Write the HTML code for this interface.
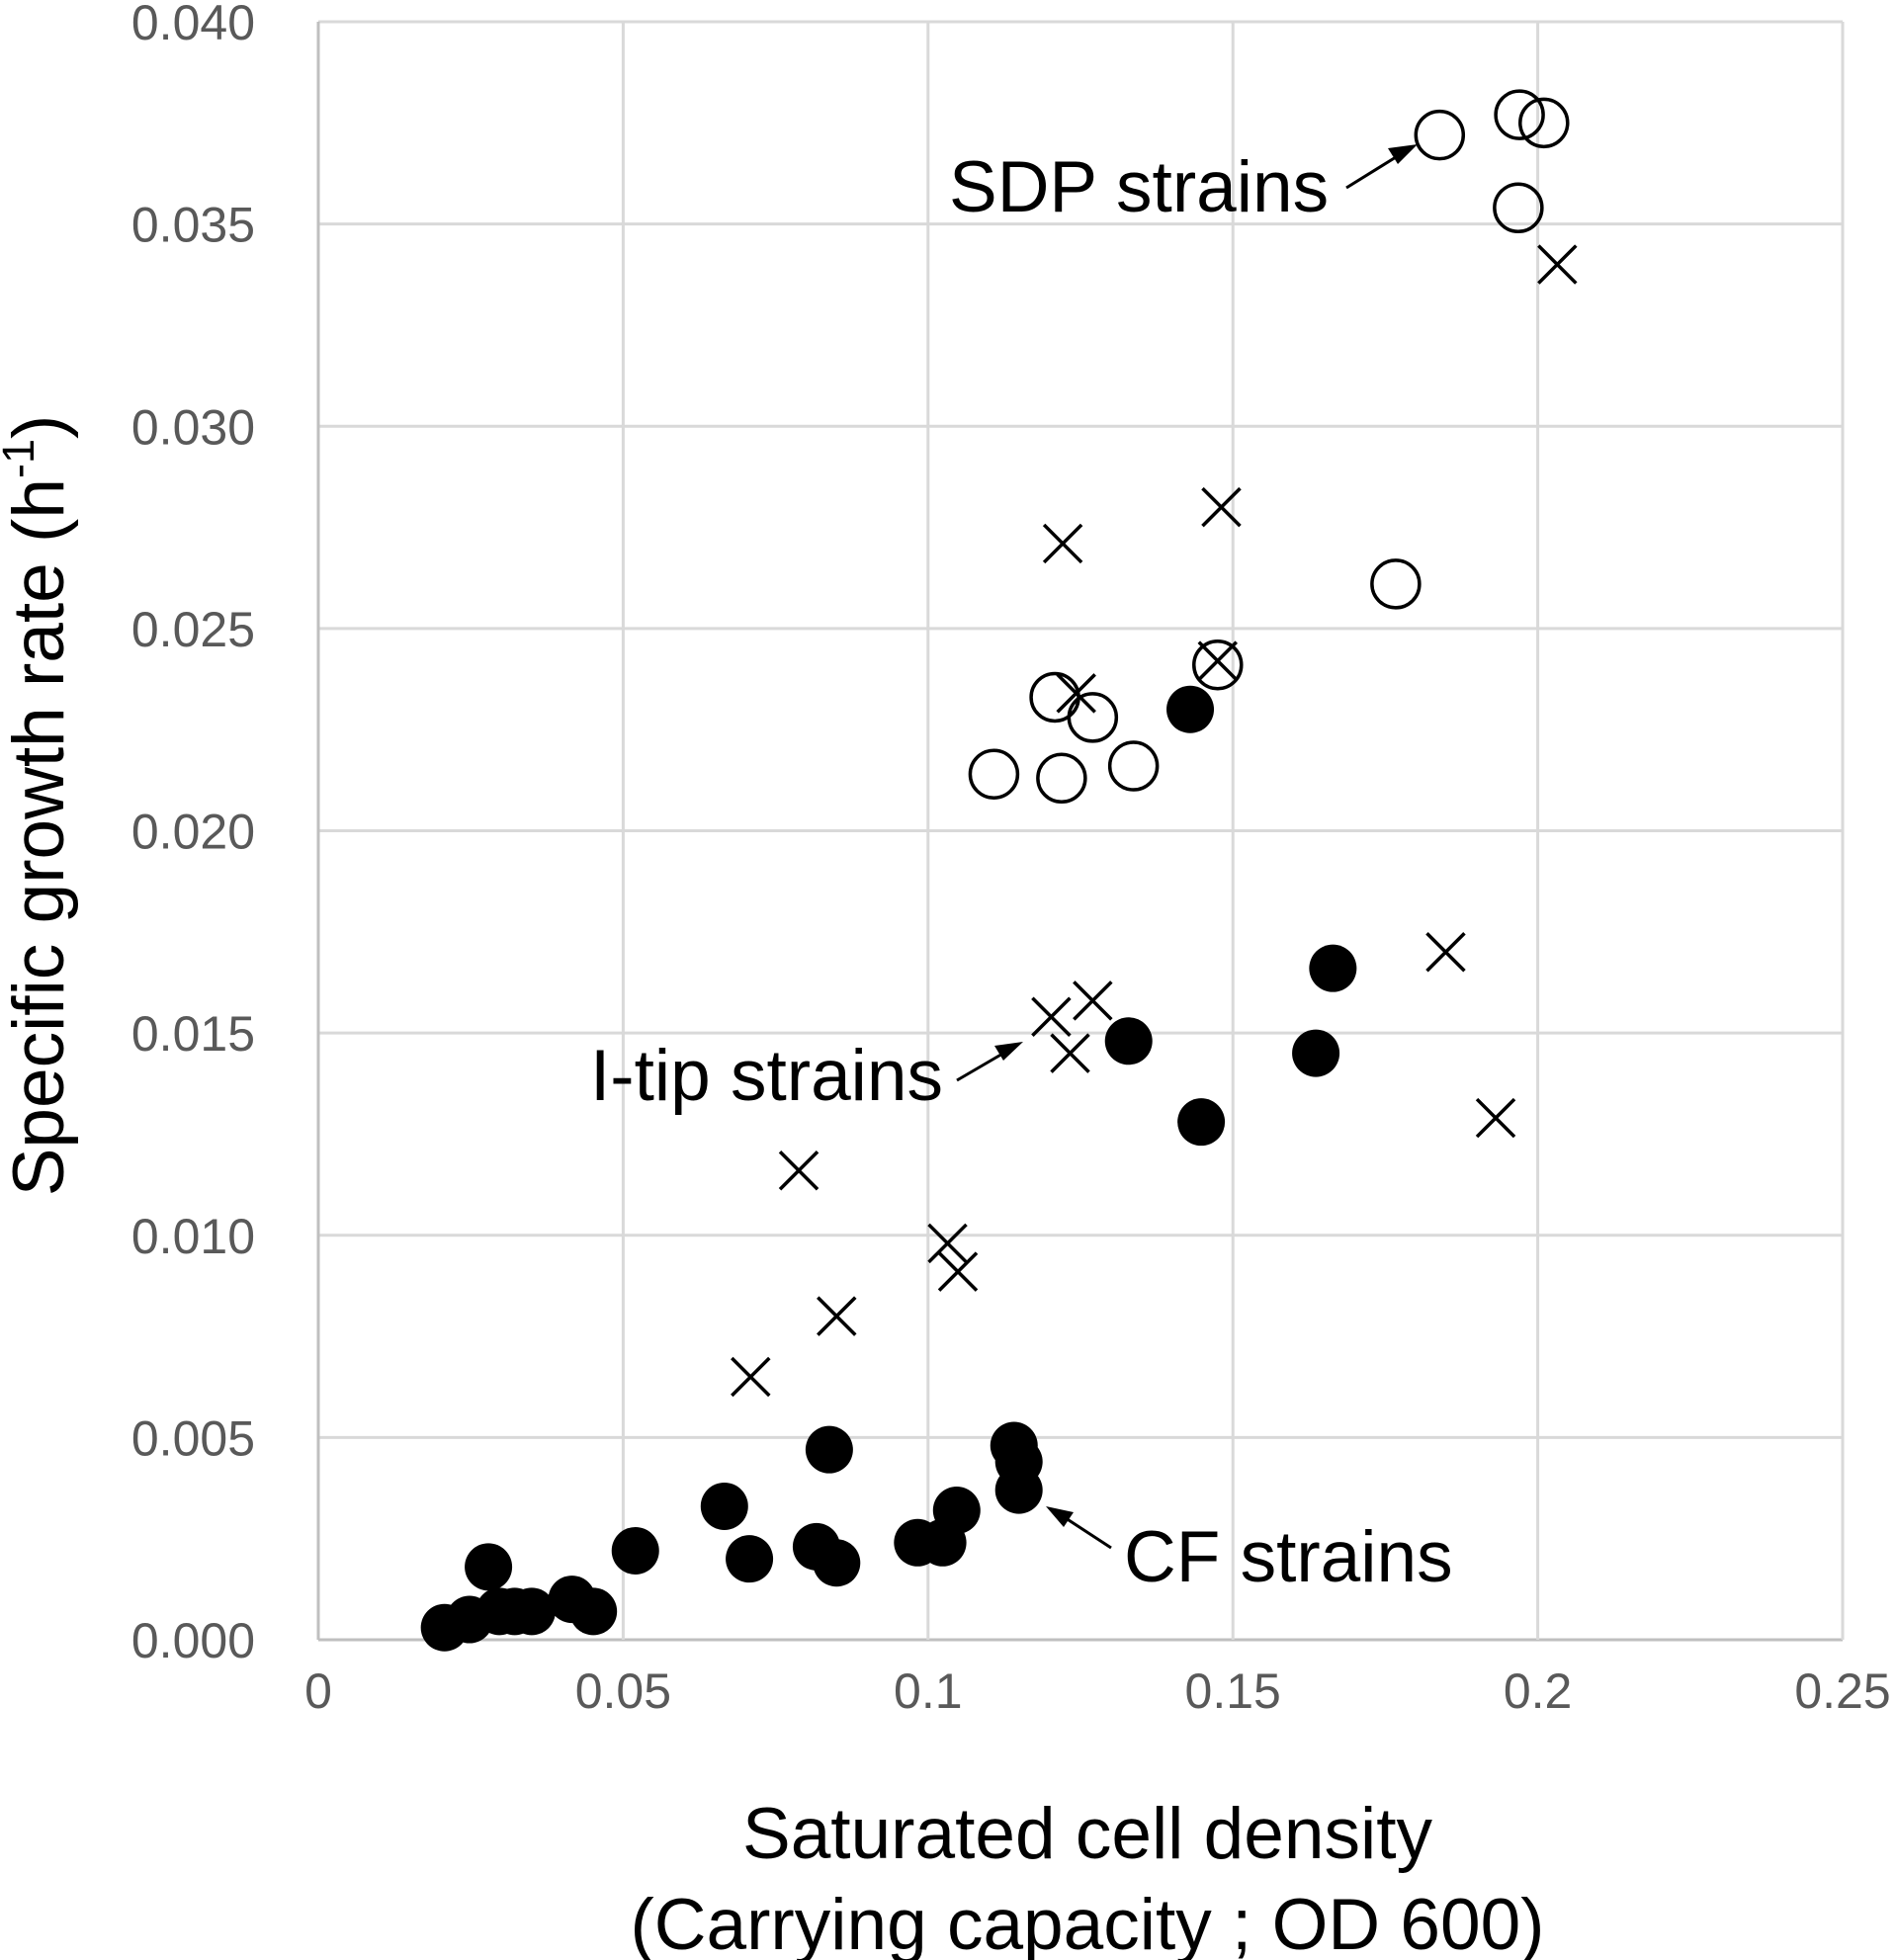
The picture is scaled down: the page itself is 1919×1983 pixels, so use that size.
<!DOCTYPE html>
<html><head><meta charset="utf-8"><style>
html,body{margin:0;padding:0;background:#fff;}
svg{display:block;font-family:"Liberation Sans",Arial,sans-serif;}
</style></head><body>
<svg id="chart" width="1919" height="1983" viewBox="0 0 1919 1983">
<g id="grid"></g>
<g id="ticks"></g>
<g id="marks"></g>
<text x="1100" y="1880" font-size="73" text-anchor="middle" fill="#000">Saturated cell density</text>
<text x="1100" y="1972" font-size="73" text-anchor="middle" fill="#000">(Carrying capacity ; OD 600)</text>
<text transform="translate(64,815) rotate(-90)" font-size="73" text-anchor="middle" fill="#000">Specific growth rate (h<tspan font-size="45" dy="-30">-1</tspan><tspan dy="30">)</tspan></text>
<g>
<text x="960" y="214" font-size="73" fill="#000">SDP strains</text>
<line x1="1362" y1="190" x2="1412" y2="159" stroke="#000" stroke-width="3"/>
<polygon points="1434,146 1404,150 1414,166" fill="#000"/>
</g>
<g>
<text x="597" y="1113" font-size="73" fill="#000">I-tip strains</text>
<line x1="968" y1="1093" x2="1016" y2="1065" stroke="#000" stroke-width="3"/>
<polygon points="1035,1054 1006,1058 1015,1073" fill="#000"/>
</g>
<g>
<text x="1137" y="1600" font-size="73" fill="#000">CF strains</text>
<line x1="1124" y1="1566" x2="1075" y2="1534" stroke="#000" stroke-width="3"/>
<polygon points="1058,1524 1086,1530 1076,1545" fill="#000"/>
</g>
</svg>
<script>
const xTicks=[0,0.05,0.1,0.15,0.2,0.25];
const xTickLabels=["0","0.05","0.1","0.15","0.2","0.25"];
const yTicks=[0,0.005,0.01,0.015,0.02,0.025,0.03,0.035,0.04];
const yTickLabels=["0.000","0.005","0.010","0.015","0.020","0.025","0.030","0.035","0.040"];
const sdpX=[0.1839,0.197,0.201,0.1968,0.1767,0.1475,0.1208,0.127,0.1108,0.1219,0.1337];
const sdpY=[0.0372,0.0377,0.0375,0.0354,0.0261,0.0241,0.0233,0.0228,0.0214,0.0213,0.0216];
const itipX=[0.2032,0.1481,0.1221,0.1243,0.1475,0.1202,0.127,0.1233,0.1849,0.1931,0.0788,0.1032,0.1049,0.085,0.0709];
const itipY=[0.0340,0.0280,0.0271,0.0234,0.0242,0.0154,0.0158,0.0145,0.0170,0.0129,0.0116,0.0098,0.0091,0.0080,0.0065];
const cfX=[0.143,0.1664,0.1329,0.1636,0.1448,0.0838,0.0666,0.052,0.0707,0.0817,0.085,0.0983,0.1024,0.1047,0.1141,0.1149,0.1149,0.0279,0.0207,0.0248,0.0297,0.0322,0.035,0.0416,0.0451];
const cfY=[0.0230,0.0166,0.0148,0.0145,0.0128,0.0047,0.0033,0.0022,0.0020,0.0023,0.0019,0.0024,0.0024,0.0032,0.0048,0.0044,0.0037,0.0018,0.0003,0.0005,0.0007,0.0007,0.0007,0.0010,0.0007];

const L=322,R=1864,T=22,B=1659;
function sx(v){return L+(v-0)/(0.25)*(R-L);}
function sy(v){return B-(v-0)/(0.04)*(B-T);}
const NS="http://www.w3.org/2000/svg";
function mk(tag,attrs,parent){const e=document.createElementNS(NS,tag);for(const k in attrs)e.setAttribute(k,attrs[k]);parent.appendChild(e);return e;}
const grid=document.getElementById('grid'),ticks=document.getElementById('ticks'),marks=document.getElementById('marks');
yTicks.forEach((t,i)=>{
  const ln=mk('line',{x1:L,x2:R,y1:sy(t),y2:sy(t),stroke:i===0?'#bfbfbf':'#d9d9d9','stroke-width':3},grid);
  
  
  const tx=mk('text',{x:L-64,y:sy(t)+18,'font-size':50,'text-anchor':'end',fill:'#595959'},ticks);
  tx.textContent=yTickLabels[i];
  
  
});
xTicks.forEach((t,i)=>{
  const ln=mk('line',{x1:sx(t),x2:sx(t),y1:T,y2:B,stroke:i===0?'#bfbfbf':'#d9d9d9','stroke-width':3},grid);
  
  
  const tx=mk('text',{x:sx(t),y:B+69,'font-size':50,'text-anchor':'middle',fill:'#595959'},ticks);
  tx.textContent=xTickLabels[i];
  
  
});
const r=24,c=19;
sdpX.forEach((x,i)=>{
  const e=mk('circle',{cx:sx(x),cy:sy(sdpY[i]),r:r,fill:'none',stroke:'#000','stroke-width':3.5},marks);
  
  
});
itipX.forEach((x,i)=>{
  const X=sx(x),Y=sy(itipY[i]);
  const e=mk('path',{d:`M${X-c},${Y-c}L${X+c},${Y+c}M${X-c},${Y+c}L${X+c},${Y-c}`,stroke:'#000','stroke-width':3.5,fill:'none'},marks);
  
  
});
cfX.forEach((x,i)=>{
  const e=mk('circle',{cx:sx(x),cy:sy(cfY[i]),r:r,fill:'#000'},marks);
  
  
});
</script>
</body></html>
